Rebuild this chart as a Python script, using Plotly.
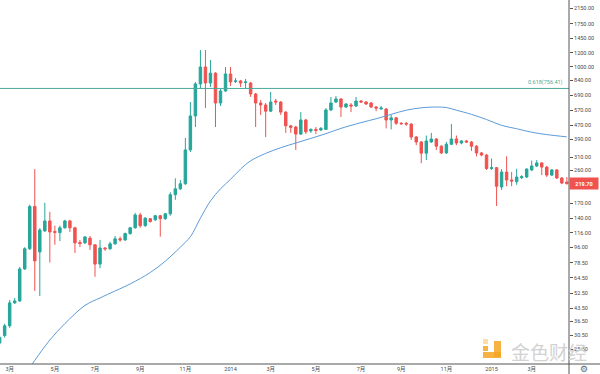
import numpy as np
import pandas as pd
import plotly.graph_objects as go

# Weekly BTC/USD candles, first week starting 2013-02-18
first_week = "2013-02-18"
opens = [27.6, 30.4, 34.5, 46.5, 47.7, 72.3, 94, 163, 90.2, 118.6,
         135, 117.8, 116, 123.5, 135, 123.5, 102, 101.5, 108, 99,
         77, 95, 94, 100.2, 107, 105.5, 114.5, 123.5, 146, 127,
         139, 137, 144.5, 139, 148, 190, 205, 219, 340, 529,
         802, 1000, 812, 923, 626, 732, 913, 828, 834, 817,
         812, 704, 626, 610, 563, 642, 634, 556, 465, 458,
         418, 502, 435, 444, 441, 444, 572, 634, 660, 594,
         610, 602, 642, 634, 626, 594, 579, 579, 502, 516,
         481, 481, 476, 402, 377, 326, 377, 392, 357, 327,
         366, 392, 372, 382, 377, 357, 327, 318, 267, 270,
         210, 255, 230, 225, 237, 239, 262, 276, 287, 272,
         245, 262, 236, 224]
highs = [30.4, 35.5, 48.3, 49.6, 74.2, 96, 167, 265, 123, 171,
         152, 127, 127, 137, 137, 125, 105.5, 111, 111, 100,
         105.5, 96, 103, 111, 110, 116, 125, 150, 150, 142,
         140, 146, 146, 150, 196, 235, 230, 397, 634, 823,
         1247, 1247, 1095, 935, 750, 1000, 1000, 867, 845, 856,
         823, 714, 651, 626, 723, 660, 642, 563, 471, 465,
         556, 509, 450, 458, 458, 586, 677, 686, 668, 626,
         626, 677, 651, 642, 634, 602, 602, 586, 536, 522,
         488, 488, 481, 408, 382, 410, 424, 397, 362, 377,
         476, 410, 387, 387, 382, 362, 331, 323, 304, 272,
         265, 313, 255, 266, 245, 268, 296, 298, 290, 276,
         265, 265, 239, 239]
lows = [27.0, 29.6, 33.6, 45.9, 47.1, 71.4, 92.6, 54.3, 50.8, 117,
        78.6, 99, 104, 122, 117, 89, 96, 100, 92.6, 65.3,
        73, 91.5, 92.6, 99, 103, 104, 113, 122, 123.5, 125,
        132, 135, 110, 137, 144.5, 177.6, 202, 216, 331, 458,
        760, 586, 771, 458, 603, 723, 781, 812, 771, 760,
        677, 458, 536, 402, 556, 610, 536, 424, 424, 340,
        413, 418, 424, 418, 435, 441, 563, 626, 522, 586,
        556, 594, 626, 610, 586, 563, 575, 450, 444, 471,
        470, 465, 387, 362, 286, 298, 372, 340, 322, 323,
        362, 362, 366, 372, 336, 313, 313, 262, 262, 164,
        202, 212, 212, 216, 233, 236, 258, 272, 245, 239,
        242, 233, 218, 216]
closes = [29.6, 34.5, 46.5, 47.7, 72.3, 94, 163, 80.3, 120, 135,
          117, 116.3, 123.5, 135, 123.5, 101.5, 100.7, 109.6, 99, 77,
          95, 94, 100.2, 107, 105.5, 114.5, 123.5, 146, 127, 140,
          134, 144.5, 139, 148, 190, 205, 219, 340, 529, 802,
          1000, 812, 923, 626, 732, 913, 823, 834, 812, 823,
          704, 626, 610, 563, 634, 634, 556, 465, 456, 418,
          502, 430, 444, 438, 450, 572, 626, 660, 594, 618,
          602, 642, 634, 618, 594, 586, 586, 502, 516, 481,
          478, 476, 402, 377, 326, 382, 392, 357, 327, 366,
          392, 372, 382, 377, 357, 327, 318, 267, 270, 212,
          255, 230, 227, 239, 240, 265, 276, 287, 272, 245,
          262, 236, 221, 219.7]

# Moving average line (week index from 2013-03-04, value)
ma_week = [4, 5, 8, 11, 15, 18, 20, 24, 28, 31, 34, 36, 38, 40, 42, 44, 46, 48,
           51, 54, 57, 60, 63, 66, 70, 73, 76, 79, 82, 85, 87, 89, 92, 95, 98,
           101, 104, 107, 111]
ma_value = [20.0, 22.0, 28.7, 35.5, 45, 49.6, 52.7, 59.5, 69, 80, 96, 110, 140,
            175, 205, 232, 265, 295, 325, 350, 372, 395, 420, 450, 485, 510,
            540, 570, 588, 594, 590, 570, 540, 505, 468, 448, 428, 415, 403]

fib_level = 756.41
last_price = 219.70

y_tick_vals = [2150, 1750, 1450, 1200, 1000, 840, 690, 570, 470, 390, 310, 260,
               210, 170, 140, 116, 96, 78.5, 64.5, 52.5, 43.5, 36.5, 30.5, 25.5]
x_tick_dates = ["2013-03-04", "2013-05-06", "2013-07-01", "2013-09-02", "2013-11-04",
                "2014-01-06", "2014-03-03", "2014-05-05", "2014-07-07", "2014-09-01",
                "2014-11-03", "2015-01-05", "2015-03-02"]
x_tick_text = ["3月", "5月", "7月", "9月", "11月", "2014", "3月", "5月", "7月", "9月",
               "11月", "2015", "3月"]

G = "#26a69a"
R = "#ef5350"
FIB = "#4aab9c"
AX = "#555555"
FONT = "Roboto, Noto Sans CJK SC, sans-serif"

weeks = pd.date_range(first_week, periods=len(opens), freq="7D")
ma_dates = pd.Timestamp("2013-03-04") + pd.to_timedelta(np.array(ma_week) * 7, unit="D")

fig = go.Figure()
fig.add_trace(go.Candlestick(
    x=weeks, open=opens, high=highs, low=lows, close=closes,
    increasing=dict(line=dict(color=G, width=1), fillcolor=G),
    decreasing=dict(line=dict(color=R, width=1), fillcolor=R),
    whiskerwidth=0, showlegend=False, hoverinfo="skip"))
fig.add_trace(go.Scatter(
    x=ma_dates, y=ma_value, mode="lines",
    line=dict(color="#5c9bd8", width=1, shape="spline", smoothing=1.0),
    showlegend=False, hoverinfo="skip"))

W, H = 600, 374
PW, PH = 569, 364

def px(xp):
    return xp / PW

def py(yp):
    return (PH - yp) / PH

shapes = [
    dict(type="line", xref="paper", yref="y", x0=0, x1=1, y0=fib_level, y1=fib_level,
         line=dict(color=FIB, width=1)),
    dict(type="line", xref="paper", yref="paper", x0=1, x1=1, y0=py(374), y1=1,
         line=dict(color=AX, width=1)),
    dict(type="line", xref="paper", yref="paper", x0=0, x1=px(600), y0=0, y1=0,
         line=dict(color=AX, width=1)),
    # watermark logo
    dict(type="rect", xref="paper", yref="paper", x0=px(494), x1=px(501), y0=py(357), y1=py(341),
         fillcolor="#f5a623", line=dict(width=0), opacity=0.85),
    dict(type="rect", xref="paper", yref="paper", x0=px(483), x1=px(501), y0=py(358), y1=py(352),
         fillcolor="#f5a623", line=dict(width=0), opacity=0.85),
    dict(type="rect", xref="paper", yref="paper", x0=px(483), x1=px(488), y0=py(351), y1=py(346),
         fillcolor="#f5a623", line=dict(width=0), opacity=0.85),
    dict(type="rect", xref="paper", yref="paper", x0=px(483), x1=px(488), y0=py(344), y1=py(339),
         fillcolor="#fbd79a", line=dict(width=0), opacity=0.85),
]

annotations = [
    dict(text="0.618(756.41)", xref="paper", yref="y", x=px(565), y=np.log10(fib_level),
         xanchor="right", yanchor="bottom", showarrow=False,
         font=dict(family=FONT, size=5.5, color=FIB), yshift=0),
    dict(text="<b>%.2f</b>" % last_price, xref="paper", yref="y", x=1, y=np.log10(last_price),
         xanchor="left", yanchor="middle", showarrow=False, bgcolor=R,
         width=28, height=11, borderpad=0,
         font=dict(family=FONT, size=5.5, color="white")),
    dict(text="金色财经", xref="paper", yref="paper", x=px(549), y=py(351),
         xanchor="center", yanchor="middle", showarrow=False,
         font=dict(family="Noto Sans CJK SC", size=19, color="#d2d2d2")),
    dict(text="⚙", xref="paper", yref="paper", x=px(584), y=py(369),
         xanchor="center", yanchor="middle", showarrow=False,
         font=dict(family="DejaVu Sans", size=9, color="#666666")),
]

fig.update_layout(
    width=W, height=H,
    margin=dict(l=0, r=W - PW, t=0, b=H - PH, autoexpand=False),
    paper_bgcolor="white", plot_bgcolor="white",
    font=dict(family=FONT, size=5.5, color="#4a4a4a"),
    shapes=shapes, annotations=annotations,
    hovermode=False,
    xaxis=dict(
        type="date",
        range=["2013-02-18 12:00", "2015-04-23"],
        rangeslider=dict(visible=False),
        showgrid=False, zeroline=False, showline=False,
        tickmode="array", tickvals=x_tick_dates, ticktext=x_tick_text,
        ticks="", tickfont=dict(size=5.5, color="#4a4a4a"),
    ),
    yaxis=dict(
        type="log", side="right",
        range=[np.log10(21.0), np.log10(2390)],
        showgrid=False, zeroline=False, showline=False,
        tickmode="array", tickvals=y_tick_vals,
        ticktext=["%.2f" % v for v in y_tick_vals],
        ticks="outside", ticklen=3, tickcolor=AX, tickwidth=1,
        tickfont=dict(size=5.5, color="#4a4a4a"),
    ),
)

fig.write_html("out.html",
               config={"displayModeBar": False},
               post_script="document.body.style.margin='0';document.body.style.padding='0';")
